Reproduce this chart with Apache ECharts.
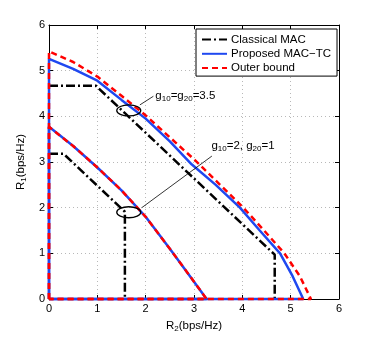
<!DOCTYPE html>
<html>
<head>
<meta charset="utf-8">
<script src="https://cdn.jsdelivr.net/npm/echarts@6/dist/echarts.min.js"></script>
<style>
  html, body { margin: 0; padding: 0; background: #fff; }
  #main { width: 374px; height: 338px; }
</style>
</head>
<body>
<div id="main"></div>
<script>
  // axis ticks (R2 on x, R1 on y)
  const axisTicks = [0, 1, 2, 3, 4, 5, 6]

  // case g10=g20=3.5
  const classicalHigh = [[0, 4.67], [0.97, 4.67], [4.67, 0.97], [4.67, 0]]
  const proposedHigh = [[0, 0], [0, 5.26], [0.5, 5.04], [1.0, 4.78], [1.5, 4.36], [2.0, 3.95], [2.5, 3.45], [2.95, 2.95],
    [3.45, 2.5], [3.95, 2.0], [4.36, 1.5], [4.78, 1.0], [5.04, 0.5], [5.26, 0], [0, 0]]
  const outerHigh = [[0, 0], [0, 5.42], [0.5, 5.19], [1.0, 4.87], [1.5, 4.45], [2.0, 4.02], [2.5, 3.54], [3.03, 3.03],
    [3.54, 2.5], [4.02, 2.0], [4.45, 1.5], [4.87, 1.0], [5.19, 0.5], [5.42, 0], [0, 0]]

  // case g10=2, g20=1
  const classicalLow = [[0, 3.18], [0.3, 3.18], [1.57, 1.91], [1.57, 0]]
  const proposedLow = [[0, 0], [0, 3.77], [0.5, 3.35], [1.0, 2.88], [1.5, 2.38], [2.0, 1.8], [2.5, 1.1], [3.0, 0.38], [3.26, 0], [0, 0]]
  const outerLow = [[0, 0], [0, 3.77], [0.5, 3.35], [1.0, 2.88], [1.5, 2.38], [2.0, 1.8], [2.5, 1.1], [3.0, 0.38], [3.26, 0], [0, 0]]

  // annotations: ellipse centres, arrows (from -> to), text anchors
  const ellipseCenters = [[1.65, 4.13], [1.65, 1.9]]
  const arrowLines = [[[2.16, 4.44], [1.88, 4.25]], [[3.37, 3.13], [1.92, 2.0]]]
  const noteAnchors = [[2.2, 4.45], [3.36, 3.36]]
  const noteTexts = ['{n|g}{s|10}{n|=g}{s|20}{n|=3.5}', '{n|g}{s|10}{n|=2, g}{s|20}{n|=1}']

  const font = '"Liberation Sans", Arial, Helvetica, sans-serif'
  const blue = '#1f48f0'
  const red = '#ff0000'

  let myChart = echarts.init(document.getElementById('main'))

  function mainAxis(pos, nameObj) {
    return Object.assign({
      type: 'value',
      position: pos,
      min: axisTicks[0],
      max: axisTicks[axisTicks.length - 1],
      interval: 1,
      axisLine: {show: true, onZero: false, lineStyle: {color: '#000', width: 1}},
      axisTick: {show: true, inside: true, length: 4, lineStyle: {color: '#000'}},
      axisLabel: {color: '#000', fontSize: 11, fontFamily: font, margin: 4},
      splitLine: {show: true, lineStyle: {color: '#b8b8b8', type: [1, 3], width: 1}}
    }, nameObj)
  }

  function frameAxis(pos) {
    return {
      type: 'value',
      position: pos,
      min: axisTicks[0],
      max: axisTicks[axisTicks.length - 1],
      interval: 1,
      axisLine: {show: true, onZero: false, lineStyle: {color: '#000', width: 1}},
      axisTick: {show: true, inside: true, length: 4, lineStyle: {color: '#000'}},
      axisLabel: {show: false},
      splitLine: {show: false}
    }
  }

  const nameRich = {
    n: {fontSize: 11.5, fontFamily: font, color: '#000'},
    s: {fontSize: 8, fontFamily: font, color: '#000', verticalAlign: 'bottom', padding: [6, 0, 0, 0]}
  }

  function lineSeries(name, data, color, type, width, z) {
    return {
      name: name,
      type: 'line',
      data: data,
      symbol: 'none',
      clip: false,
      z: z,
      animation: false,
      lineStyle: {color: color, type: type, width: width},
      itemStyle: {color: color}
    }
  }

  const classicalType = [9, 3, 2, 3]
  const outerType = [6, 4]

  const series = [
    lineSeries('Classical MAC', classicalHigh, '#000', classicalType, 2.5, 2),
    lineSeries('Classical MAC', classicalLow, '#000', classicalType, 2.5, 2),
    lineSeries('Proposed MAC\u2212TC', proposedHigh, blue, 'solid', 2.5, 3),
    lineSeries('Proposed MAC\u2212TC', proposedLow, blue, 'solid', 2.5, 3),
    lineSeries('Outer bound', outerHigh, red, outerType, 2.5, 4),
    lineSeries('Outer bound', outerLow, red, outerType, 2.5, 4)
  ]

  // arrows as a markLine on the first series
  series[0].markLine = {
    silent: true,
    symbol: ['none', 'arrow'],
    symbolSize: [0, 9],
    animation: false,
    label: {show: false},
    lineStyle: {color: '#000', type: 'solid', width: 0.8},
    data: arrowLines.map(a => [{coord: a[0]}, {coord: a[1]}])
  }

  myChart.setOption({
    animation: false,
    grid: {left: 49, top: 25, width: 290, height: 275, containLabel: false},
    legend: {
      orient: 'vertical',
      left: 196,
      top: 29,
      width: 138,
      padding: [4, 6, 1.5, 5],
      itemWidth: 25,
      itemHeight: 10,
      itemGap: 1.3,
      backgroundColor: '#fff',
      borderColor: '#000',
      borderWidth: 1,
      z: 10,
      itemStyle: {opacity: 0},
      lineStyle: {width: 2},
      data: ['Classical MAC', 'Proposed MAC\u2212TC', 'Outer bound'],
      textStyle: {fontSize: 11.5, fontFamily: font, color: '#000', lineHeight: 13, padding: [0, 0, 0, -1]}
    },
    xAxis: [
      mainAxis('bottom', {
        name: '{n|R}{s|2}{n|(bps/Hz)}',
        nameLocation: 'middle',
        nameGap: 20,
        nameTextStyle: {rich: nameRich}
      }),
      frameAxis('top')
    ],
    yAxis: [
      mainAxis('left', {
        name: '{n|R}{s|1}{n|(bps/Hz)}',
        nameLocation: 'middle',
        nameGap: 20,
        nameTextStyle: {rich: nameRich}
      }),
      frameAxis('right')
    ],
    series: series
  })

  // ellipses and notes, placed through the axis scales
  const toPx = p => myChart.convertToPixel({gridIndex: 0}, p)
  const graphics = []
  ellipseCenters.forEach(c => {
    const p = toPx(c)
    graphics.push({
      type: 'ellipse',
      shape: {cx: p[0], cy: p[1], rx: 12, ry: 5.5},
      style: {fill: null, stroke: '#000', lineWidth: 1.3},
      z: 20
    })
  })
  noteAnchors.forEach((c, i) => {
    const p = toPx(c)
    graphics.push({
      type: 'text',
      x: p[0],
      y: p[1],
      style: {
        text: noteTexts[i],
        rich: {
          n: {fontSize: 11.5, fontFamily: font, fill: '#000'},
          s: {fontSize: 8, fontFamily: font, fill: '#000', padding: [6, 0, 0, 0]}
        },
        verticalAlign: 'middle',
        align: 'left'
      },
      z: 20
    })
  })
  myChart.setOption({graphic: graphics})
</script>
</body>
</html>
